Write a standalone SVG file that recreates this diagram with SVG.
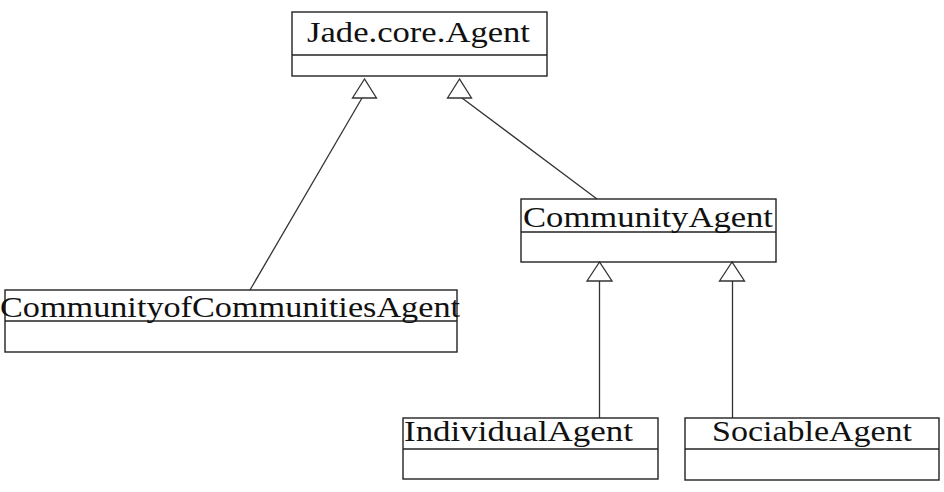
<svg xmlns="http://www.w3.org/2000/svg" width="944" height="492" viewBox="0 0 944 492">
<style>
.box{fill:none;stroke:#222;stroke-width:1.4}
.t{font-family:"Liberation Serif","DejaVu Serif",serif;font-size:29px;fill:#111}
.c{fill:none;stroke:#333;stroke-width:1.3}
.tri{fill:#fff;stroke:#333;stroke-width:1.3}
</style>
<rect width="944" height="492" fill="#fff"/>
<g id="connectors">
<line class="c" x1="362" y1="98" x2="250" y2="290"/>
<line class="c" x1="462" y1="98" x2="597" y2="199"/>
<line class="c" x1="599.5" y1="281" x2="599.5" y2="418"/>
<line class="c" x1="732.5" y1="281" x2="732.5" y2="418"/>
<polygon class="tri" points="364.5,79 352.5,98 376.5,98"/>
<polygon class="tri" points="459.5,79 447.5,98 471.5,98"/>
<polygon class="tri" points="599.5,262 587,281 612,281"/>
<polygon class="tri" points="732,262 719.5,281 744.5,281"/>
</g>
<g id="jade">
<rect class="box" x="292" y="12" width="255" height="64"/>
<line class="box" x1="292" y1="55" x2="547" y2="55"/>
<text class="t" x="307" y="42" textLength="223" lengthAdjust="spacingAndGlyphs">Jade.core.Agent</text>
</g>
<g id="community">
<rect class="box" x="521" y="199" width="255" height="63"/>
<line class="box" x1="521" y1="232" x2="776" y2="232"/>
<text class="t" x="523" y="227" textLength="250" lengthAdjust="spacingAndGlyphs">CommunityAgent</text>
</g>
<g id="coc">
<rect class="box" x="5" y="290" width="452" height="62"/>
<line class="box" x1="5" y1="321" x2="457" y2="321"/>
<text class="t" x="0" y="317" textLength="460" lengthAdjust="spacingAndGlyphs">CommunityofCommunitiesAgent</text>
</g>
<g id="individual">
<rect class="box" x="403" y="418" width="255" height="61"/>
<line class="box" x1="403" y1="449" x2="658" y2="449"/>
<text class="t" x="404" y="441" textLength="229" lengthAdjust="spacingAndGlyphs">IndividualAgent</text>
</g>
<g id="sociable">
<rect class="box" x="685" y="418" width="254" height="62"/>
<line class="box" x1="685" y1="449" x2="939" y2="449"/>
<text class="t" x="712" y="441" textLength="200" lengthAdjust="spacingAndGlyphs">SociableAgent</text>
</g>
</svg>
